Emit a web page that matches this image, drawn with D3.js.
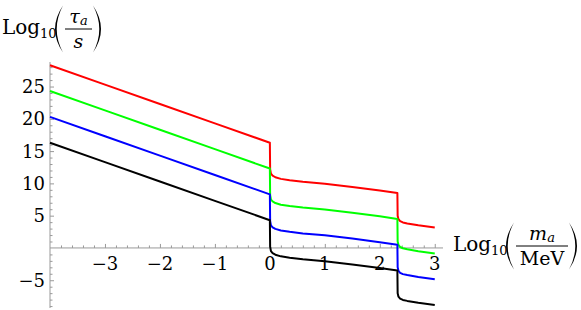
<!DOCTYPE html>
<html>
<head>
<meta charset="utf-8">
<script src="https://cdn.jsdelivr.net/npm/d3@7"></script>
<style>
  html, body { margin: 0; padding: 0; background: #fff; }
  .serif { font-family: "DejaVu Serif"; }
</style>
</head>
<body>
<div id="chart"></div>
<script>
// log10(m_a / MeV), shared by every curve
const massX = [-4, -3, -2, -1, 0, 0.005, 0.02, 0.05, 0.1, 0.2, 0.36, 0.6, 1.0, 1.5, 2.0, 2.32, 2.325, 2.34, 2.37, 2.42, 2.5, 2.7, 3.0];

// log10(tau_a / s)
const redTau   = [28.3, 25.3, 22.3, 19.3, 16.3, 12.2, 11.5, 11.2, 10.95, 10.7, 10.5, 10.25, 9.95, 9.45, 8.9, 8.5, 5.0, 4.45, 4.15, 3.95, 3.8, 3.5, 3.15];
const greenTau = [24.3, 21.3, 18.3, 15.3, 12.3, 8.2, 7.5, 7.2, 6.95, 6.7, 6.5, 6.25, 5.95, 5.45, 4.9, 4.5, 1.0, 0.45, 0.15, -0.05, -0.2, -0.5, -0.85];
const blueTau  = [20.3, 17.3, 14.3, 11.3, 8.3, 4.2, 3.5, 3.2, 2.95, 2.7, 2.5, 2.25, 1.95, 1.45, 0.9, 0.5, -3.0, -3.55, -3.85, -4.05, -4.2, -4.5, -4.85];
const blackTau = [16.3, 13.3, 10.3, 7.3, 4.3, 0.2, -0.5, -0.8, -1.05, -1.3, -1.5, -1.75, -2.05, -2.55, -3.1, -3.5, -7.0, -7.55, -7.85, -8.05, -8.2, -8.5, -8.85];

const seriesList = [
  { values: redTau, color: "#ff0000" },
  { values: greenTau, color: "#00ff00" },
  { values: blueTau, color: "#0000ff" },
  { values: blackTau, color: "#000000" }
];

const xTickValues = [-3, -2, -1, 0, 1, 2, 3];
const yTickValues = [-5, 5, 10, 15, 20, 25];

const width = 581;
const height = 310;
const axisColor = "#999999";

const svg = d3.select("#chart")
  .append("svg")
  .attr("width", width)
  .attr("height", height);

const x = d3.scaleLinear().domain([-4, 3.15]).range([50, 443]);
const y = d3.scaleLinear().domain([-9.3, 28.8]).range([308, 62]);

// minor ticks
const xMinor = d3.range(-3.8, 3.01, 0.2).filter(v => Math.abs(v - Math.round(v)) > 0.01);
const yMinor = d3.range(-9, 29, 1).filter(v => v % 5 !== 0);

const xAxis = g => g
  .attr("transform", `translate(0,${y(0)})`)
  .call(d3.axisTop(x).tickValues(xTickValues).tickSize(4).tickFormat(""))
  .call(g => g.select(".domain").attr("stroke", axisColor).attr("d", `M${x.range()[0]},0H${x.range()[1]}`))
  .call(g => g.selectAll(".tick line").attr("stroke", axisColor));

const yAxis = g => g
  .attr("transform", `translate(${x(-4)},0)`)
  .call(d3.axisRight(y).tickValues(yTickValues).tickSize(4).tickFormat(""))
  .call(g => g.select(".domain").attr("stroke", axisColor).attr("d", `M0,${y.range()[0]}V${y.range()[1]}`))
  .call(g => g.selectAll(".tick line").attr("stroke", axisColor));

svg.append("g").call(xAxis);
svg.append("g").call(yAxis);

svg.append("g")
  .attr("transform", `translate(0,${y(0)})`)
  .call(d3.axisTop(x).tickValues(xMinor).tickSize(2.5).tickFormat(""))
  .call(g => g.select(".domain").remove())
  .call(g => g.selectAll(".tick line").attr("stroke", axisColor));

svg.append("g")
  .attr("transform", `translate(${x(-4)},0)`)
  .call(d3.axisRight(y).tickValues(yMinor).tickSize(2.5).tickFormat(""))
  .call(g => g.select(".domain").remove())
  .call(g => g.selectAll(".tick line").attr("stroke", axisColor));

const fmt = v => (v < 0 ? "\u2212" + Math.abs(v) : String(v));

// tick labels
const labels = svg.append("g").attr("class", "serif");

labels.selectAll(".xlab")
  .data(xTickValues)
  .join("text")
  .attr("class", "xlab")
  .attr("x", d => x(d))
  .attr("y", y(0) + 22)
  .attr("text-anchor", "middle")
  .attr("font-size", 18)
  .text(fmt);

labels.selectAll(".ylab")
  .data(yTickValues)
  .join("text")
  .attr("class", "ylab")
  .attr("x", 45)
  .attr("y", d => y(d) + 6.5)
  .attr("text-anchor", "end")
  .attr("font-size", 18)
  .text(fmt);

// curves
const line = d3.line()
  .x((d, i) => x(massX[i]))
  .y(d => y(d));

seriesList.forEach(s => {
  svg.append("path")
    .datum(s.values)
    .attr("fill", "none")
    .attr("stroke", s.color)
    .attr("stroke-width", 2)
    .attr("stroke-linejoin", "round")
    .attr("d", line);
});

// big parenthesis as a thin crescent
function paren(g, px, cy, left) {
  const h = 23.5, w = 8;
  const tipX = left ? px + w : px;
  const dir = left ? -1 : 1;
  const c1 = tipX + dir * 16;
  const c2 = tipX + dir * 12.6;
  g.append("path")
    .attr("d", `M${tipX},${cy - h}Q${c1},${cy} ${tipX},${cy + h}Q${c2},${cy} ${tipX},${cy - h}Z`)
    .attr("fill", "#000");
}

// axis labels: Log10( num / den )
function fracLabel(x0, bar, fracW, num, numSub, den, denItalic) {
  const g = svg.append("g").attr("class", "serif");
  const base = bar + 5;
  g.append("text").attr("x", x0).attr("y", base).attr("font-size", 20).text("Log");
  g.append("text").attr("x", x0 + 38).attr("y", base + 4).attr("font-size", 13).text("10");
  paren(g, x0 + 53, bar, true);
  const f0 = x0 + 63;
  paren(g, f0 + fracW + 1, bar, false);
  const cx = f0 + fracW / 2;
  const num1 = g.append("text").attr("x", cx).attr("y", bar - 6).attr("text-anchor", "middle").attr("font-size", 19);
  num1.append("tspan").attr("font-style", "italic").text(num);
  num1.append("tspan").attr("font-style", "italic").attr("font-size", 13).attr("dy", 2).text(numSub);
  g.append("line")
    .attr("x1", f0).attr("x2", f0 + fracW)
    .attr("y1", bar).attr("y2", bar)
    .attr("stroke", "#000").attr("stroke-width", 1);
  g.append("text").attr("x", cx).attr("y", bar + 19).attr("text-anchor", "middle")
    .attr("font-size", 19).attr("font-style", denItalic ? "italic" : "normal").text(den);
  return g;
}

fracLabel(2, 29, 27, "\u03c4", "a", "s", true);
fracLabel(453, 246, 52, "m", "a", "MeV", false);
</script>
</body>
</html>
